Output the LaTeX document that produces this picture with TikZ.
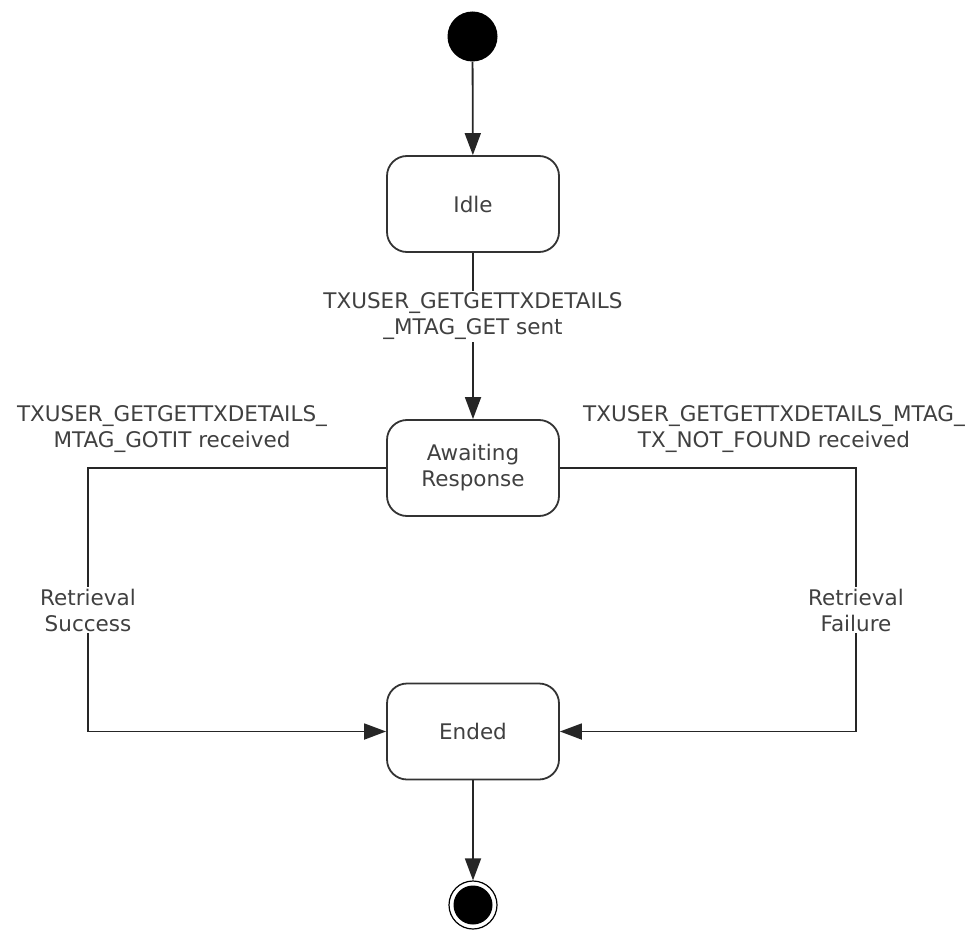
\documentclass[tikz,border=0pt]{standalone}
\usepackage{fontspec}
\setmainfont{DejaVu Sans}
\usetikzlibrary{arrows.meta}
\begin{document}
\begin{tikzpicture}[x=1pt,y=-1pt,
  statebox/.style={draw=black!80, rounded corners=20pt, minimum width=172pt, minimum height=96pt,
    line width=1.8pt, align=center, inner sep=0pt, font=\fontsize{21.5}{26}\selectfont, text=black!75},
  conn/.style={draw=black!85, line width=1.8pt},
  arr/.style={conn, -{Triangle[length=22pt,width=16pt]}},
  lbl/.style={fill=white, align=center, inner sep=2pt, font=\fontsize{21.5}{26}\selectfont, text=black!75}]
\useasboundingbox (0,0) rectangle (975,931);
\node[circle, fill=black, minimum size=50pt, inner sep=0pt] (start) at (472.5,36.5) {};
\node[statebox] (idle) at (473,204) {Idle};
\node[statebox] (await) at (473,468) {Awaiting\\Response};
\node[statebox] (ended) at (473,731.5) {Ended};
\node[circle, draw=black, line width=1.2pt, minimum size=48pt, inner sep=0pt] (final) at (473,905) {};
\node[circle, fill=black, minimum size=39pt, inner sep=0pt] (finalin) at (final) {};
\coordinate (lc1) at (88,468);
\coordinate (lc2) at (88,731.5);
\coordinate (rc1) at (856,468);
\coordinate (rc2) at (856,731.5);
\draw[arr] (start) -- (idle);
\draw[arr] (idle) -- (await);
\draw[conn] (await.west) -- (lc1) -- (lc2);
\draw[arr] (lc2) -- (ended.west);
\draw[conn] (await.east) -- (rc1) -- (rc2);
\draw[arr] (rc2) -- (ended.east);
\draw[arr] (ended) -- (final);
\node[lbl] (l1) at (473,316.5) {TXUSER\_GETGETTXDETAILS\\\_MTAG\_GET sent};
\node[lbl] (l2) at (172,429) {TXUSER\_GETGETTXDETAILS\_\\MTAG\_GOTIT received};
\node[lbl] (l3) at (774,429) {TXUSER\_GETGETTXDETAILS\_MTAG\_\\TX\_NOT\_FOUND received};
\node[lbl] (l4) at (88,610) {Retrieval\\Success};
\node[lbl] (l5) at (856,610) {Retrieval\\Failure};
\end{tikzpicture}
\end{document}
